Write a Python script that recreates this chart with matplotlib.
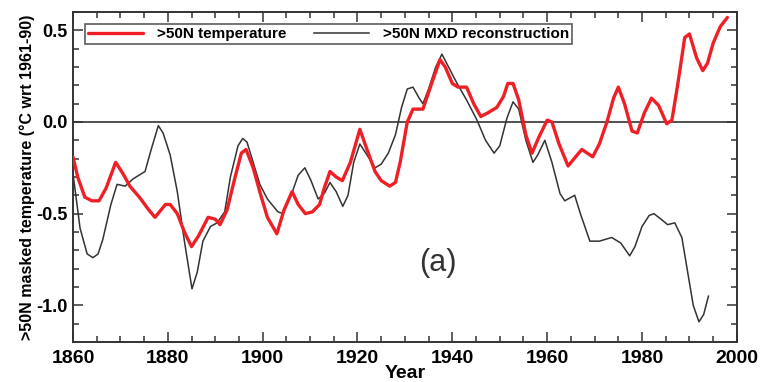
import numpy as np
import matplotlib
matplotlib.use('Agg')
import matplotlib.pyplot as plt
from matplotlib.ticker import MultipleLocator

plt.rcParams['font.family'] = ['Liberation Sans', 'DejaVu Sans']

# ====================== DATA ======================
temp_years = [1860, 1861, 1862.5, 1864, 1865.5, 1867, 1869, 1870.5, 1872, 1874,
              1876, 1877.3, 1879.5, 1880.5, 1882, 1883.5, 1885, 1886.5, 1888.5, 1890,
              1891, 1892.5, 1894, 1895.5, 1896.5, 1898, 1899.5, 1901, 1903, 1904.5,
              1906.2, 1907.5, 1909, 1910.5, 1912, 1913, 1914.2, 1915.5, 1916.8, 1918.5,
              1920.5, 1922, 1923.7, 1925, 1926.8, 1928, 1929, 1930.5, 1931.7, 1933.8,
              1935.5, 1937.4, 1938.5, 1940, 1941.2, 1943, 1944.5, 1946, 1947.5, 1949.4,
              1950.8, 1951.7, 1952.8, 1954, 1955.5, 1956.8, 1958.3, 1960, 1961, 1962.5,
              1964.4, 1966, 1967.3, 1969.6, 1971, 1972.6, 1974, 1975, 1976.3, 1977.9,
              1979, 1980.5, 1982, 1983.5, 1985.2, 1986.3, 1987.5, 1989, 1990, 1991.5,
              1992.8, 1993.8, 1995, 1996.5, 1998]
temp_vals = [-0.19, -0.30, -0.41, -0.43, -0.43, -0.36, -0.22, -0.28, -0.35, -0.41,
             -0.48, -0.52, -0.45, -0.45, -0.50, -0.60, -0.68, -0.62, -0.52, -0.53,
             -0.56, -0.48, -0.32, -0.17, -0.15, -0.25, -0.39, -0.52, -0.61, -0.48,
             -0.38, -0.45, -0.50, -0.49, -0.45, -0.36, -0.27, -0.30, -0.32, -0.22,
             -0.04, -0.15, -0.27, -0.32, -0.35, -0.33, -0.22, 0.00, 0.07, 0.07,
             0.20, 0.34, 0.30, 0.21, 0.19, 0.19, 0.10, 0.03, 0.05, 0.08,
             0.14, 0.21, 0.21, 0.12, -0.07, -0.17, -0.08, 0.01, 0.00, -0.12,
             -0.24, -0.19, -0.15, -0.19, -0.12, 0.00, 0.13, 0.19, 0.10, -0.05,
             -0.06, 0.05, 0.13, 0.09, -0.01, 0.01, 0.20, 0.46, 0.48, 0.35,
             0.28, 0.32, 0.43, 0.52, 0.57]

mxd_years = [1860, 1861.5, 1863, 1864.2, 1865.3, 1866.3, 1868, 1869.3, 1871, 1872.7,
             1875.2, 1876.5, 1878, 1879, 1880.5, 1882, 1883.5, 1885.1, 1886.2, 1887.4,
             1889, 1890.4, 1892, 1893.2, 1894.8, 1895.8, 1896.7, 1898, 1899.4, 1901,
             1903.2, 1904.3, 1906, 1907.5, 1908.9, 1910.2, 1911.7, 1913, 1914.2, 1915.5,
             1916.9, 1918, 1919.2, 1920.5, 1922, 1923.7, 1925, 1926.5, 1928, 1929.3,
             1930.5, 1931.7, 1933, 1933.8, 1935, 1936.5, 1937.8, 1939, 1941, 1943,
             1945.2, 1947, 1948.8, 1950, 1951.5, 1952.8, 1954, 1955.5, 1957, 1958,
             1959.5, 1961, 1962.7, 1963.7, 1965.8, 1967, 1969, 1971, 1973.6, 1975.5,
             1977.4, 1978.5, 1980, 1981.5, 1982.5, 1984, 1985.4, 1986.9, 1988.4, 1989.5,
             1990.8, 1992, 1993, 1994]
mxd_vals = [-0.28, -0.58, -0.72, -0.74, -0.72, -0.64, -0.45, -0.34, -0.35, -0.31,
            -0.27, -0.15, -0.02, -0.06, -0.18, -0.38, -0.65, -0.91, -0.82, -0.65,
            -0.57, -0.55, -0.49, -0.30, -0.13, -0.09, -0.11, -0.22, -0.34, -0.42,
            -0.49, -0.50, -0.40, -0.29, -0.25, -0.32, -0.42, -0.39, -0.33, -0.38,
            -0.46, -0.40, -0.22, -0.12, -0.18, -0.25, -0.23, -0.17, -0.07, 0.08,
            0.18, 0.19, 0.13, 0.10, 0.18, 0.30, 0.37, 0.31, 0.21, 0.12,
            0.01, -0.10, -0.17, -0.13, 0.02, 0.11, 0.07, -0.10, -0.22, -0.18,
            -0.10, -0.22, -0.39, -0.43, -0.40, -0.50, -0.65, -0.65, -0.63, -0.66,
            -0.73, -0.68, -0.57, -0.51, -0.50, -0.53, -0.56, -0.55, -0.63, -0.80,
            -1.00, -1.09, -1.05, -0.95]

x_ticks = [1860, 1880, 1900, 1920, 1940, 1960, 1980, 2000]
y_ticks = [-1.0, -0.5, 0.0, 0.5]

# ====================== PLOT ======================
fig = plt.figure(figsize=(7.64, 3.82), dpi=100)
ax = fig.add_axes([0.0955, 0.1047, 0.869, 0.864])

ax.axhline(0, color='#222222', lw=1.1, zorder=1)
ax.plot(mxd_years, mxd_vals, color='#333333', lw=1.1, label='>50N MXD reconstruction',
        solid_joinstyle='round', zorder=2)
ax.plot(temp_years, temp_vals, color='#ee2026', lw=2.4, label='>50N temperature',
        solid_joinstyle='round', solid_capstyle='round', zorder=3)

ax.set_xlim(1860, 2000)
ax.set_ylim(-1.2, 0.6)
ax.set_xticks(x_ticks)
ax.set_yticks(y_ticks)
ax.set_yticklabels(['-1.0', '-0.5', '0.0', '0.5'])
ax.xaxis.set_minor_locator(MultipleLocator(5))
ax.yaxis.set_minor_locator(MultipleLocator(0.1))
ax.tick_params(which='both', direction='in', top=True, right=True, color='#333333', width=1.1)
ax.tick_params(which='major', length=7)
ax.tick_params(which='minor', length=4)
ax.tick_params(axis='x', which='major', labelsize=14, pad=6)
ax.tick_params(axis='y', which='major', labelsize=13, pad=4)
for lab in ax.get_xticklabels() + ax.get_yticklabels():
    lab.set_fontweight('bold')
for sp in ax.spines.values():
    sp.set_linewidth(1.4)
    sp.set_color('#333333')

ax.set_xlabel('Year', fontsize=14, fontweight='bold', labelpad=-2)
ax.set_ylabel('>50N masked temperature (°C wrt 1961-90)', fontsize=11.5, fontweight='bold', labelpad=1)

handles, labels = ax.get_legend_handles_labels()
leg = ax.legend(handles[::-1], labels[::-1], ncol=2, loc='upper left',
                bbox_to_anchor=(0.014, 0.972), frameon=True, fancybox=False,
                shadow=False, edgecolor='#333333',
                prop={'weight': 'bold', 'size': 11}, handlelength=3.6,
                columnspacing=1.8, borderpad=0.2, handletextpad=0.9,
                borderaxespad=0.2)
leg.get_frame().set_linewidth(1.2)

ax.text(1937, -0.77, '(a)', fontsize=22, ha='center', va='center', color='#333333')

fig.savefig('out.png', dpi=100)
